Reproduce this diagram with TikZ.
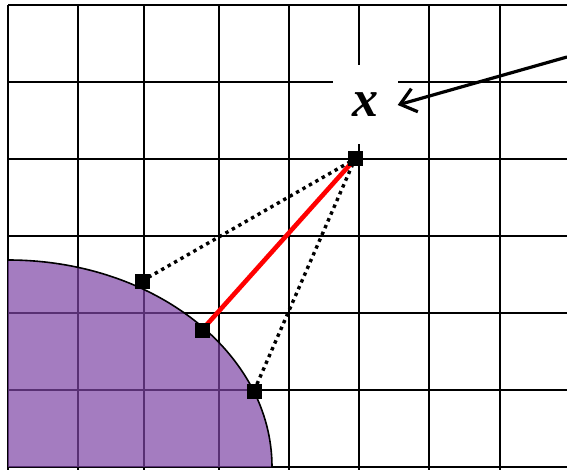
\documentclass[tikz,border=0pt]{standalone}
\usepackage{fontspec}
\setmainfont{Liberation Serif}
\usetikzlibrary{arrows.meta,positioning}
\definecolor{regionpurple}{RGB}{126,69,165}

\begin{document}
\begin{tikzpicture}[x=1pt,y=-1pt,
    gridline/.style={black, line width=2.9pt},
    sq/.style={fill=black, minimum size=15pt, inner sep=0pt},
    near/.style={red, line width=4.6pt},
    far/.style={black, line width=3.4pt, dash pattern=on 3.4pt off 4pt}]
    \useasboundingbox (0,0) rectangle (567,470);

    % Grid
    \foreach \gx in {8,78,144,219,289,359,429,500}
        \draw[gridline] (\gx,5) -- (\gx,470);
    \foreach \gy in {5,82,159,236,313,390,467}
        \draw[gridline] (8,\gy) -- (567,\gy);

    % Region
    \fill[regionpurple, fill opacity=0.7] (8,467) -- (8,260)
        arc[start angle=-90, end angle=0, x radius=264, y radius=207] -- cycle;
    \draw[black, line width=1.6pt] (8,260)
        arc[start angle=-90, end angle=0, x radius=264, y radius=207];

    % Points
    \coordinate (x0) at (355,159);
    \coordinate (b1) at (142,281);
    \coordinate (b2) at (202,330);
    \coordinate (b3) at (254,391);

    % Label
    \node[fill=white, minimum width=65pt, minimum height=79pt, inner sep=0pt,
          font=\fontsize{52}{52}\selectfont\bfseries\itshape] (lbl) at (365,105) {x};
    \coordinate (tail) at (567,57);
    \draw[line width=3.2pt, -{Straight Barb[length=15pt, width=24pt]}] (tail) -- (lbl.east);

    % Distances
    \draw[far] (b1) -- (x0);
    \draw[far] (b3) -- (x0);
    \draw[near] (b2) -- (x0);

    \node[sq] (sx0) at (x0) {};
    \node[sq] (sb1) at (b1) {};
    \node[sq] (sb2) at (b2) {};
    \node[sq] (sb3) at (b3) {};
\end{tikzpicture}
\end{document}
